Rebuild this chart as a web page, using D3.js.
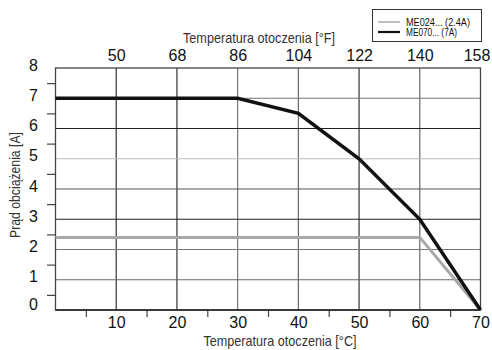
<!DOCTYPE html>
<html>
<head>
<meta charset="utf-8">
<script src="https://cdn.jsdelivr.net/npm/d3@7"></script>
<style>
  body { margin: 0; background: #fff; }
  .num { font-family: "Liberation Sans", Arial, sans-serif; font-size: 16px; fill: #111; }
  .cond { font-family: "Liberation Sans", Arial, sans-serif; fill: #333; }
</style>
</head>
<body>
<div id="chart"></div>
<script>
// values
var tempC = [0, 30, 40, 50, 60, 70];
var me070 = [7, 7, 6.5, 5, 3, 0];
var tempC24 = [0, 60, 70];
var me024 = [2.4, 2.4, 0];

var cTicks = [10, 20, 30, 40, 50, 60, 70];
var cMinor = [5, 15, 25, 35, 45, 55, 65];
var fTicks = [50, 68, 86, 104, 122, 140, 158];
var yTicks = [0, 1, 2, 3, 4, 5, 6, 7, 8];
var yMinor = [0.5, 1.5, 2.5, 3.5, 4.5, 5.5, 6.5, 7.5];
var yGrid = [1, 2, 3, 4, 5, 6, 7];
var xGrid = [10, 20, 30, 40, 50, 60];

var seriesNames = ["ME024... (2.4A)", "ME070... (7A)"];

var svgWidth = 492;
var svgHeight = 350;
var margin = { top: 68, right: 11.5, bottom: 40, left: 55.5 };
var width = svgWidth - margin.left - margin.right;
var height = svgHeight - margin.top - margin.bottom;

// scanned chart: gridlines are not all the same tone
var vGridColor = { 10: "#333", 20: "#333", 30: "#777", 40: "#666", 50: "#333", 60: "#666" };
var hGridColor = { 1: "#666", 2: "#777", 3: "#222", 4: "#555", 5: "#bbb", 6: "#222", 7: "#777" };

var svg = d3.select("#chart")
  .append("svg")
  .attr("width", svgWidth)
  .attr("height", svgHeight);

var chartGroup = svg.append("g")
  .attr("transform", `translate(${margin.left}, ${margin.top})`);

var x = d3.scaleLinear().domain([0, 70]).range([0, width]);
var xF = d3.scaleLinear().domain([32, 158]).range([0, width]);
var y = d3.scaleLinear().domain([0, 8]).range([height, 0]);

//grid
chartGroup.selectAll(".vgrid").data(xGrid).enter()
  .append("line")
  .attr("x1", d => x(d)).attr("x2", d => x(d))
  .attr("y1", 0).attr("y2", height)
  .attr("stroke", d => vGridColor[d])
  .attr("stroke-width", 1.2);

chartGroup.selectAll(".hgrid").data(yGrid).enter()
  .append("line")
  .attr("x1", 0).attr("x2", width)
  .attr("y1", d => y(d)).attr("y2", d => y(d))
  .attr("stroke", d => hGridColor[d])
  .attr("stroke-width", 1.2);

//frame
chartGroup.append("rect")
  .attr("x", 0).attr("y", 0)
  .attr("width", width).attr("height", height)
  .attr("fill", "none")
  .attr("stroke", "#444")
  .attr("stroke-width", 1.3);

//axes
var leftLabels = chartGroup.append("g")
  .call(d3.axisLeft(y).tickValues(yTicks).tickSize(0).tickPadding(17.5).tickFormat(d3.format("d")));
leftLabels.select(".domain").remove();
leftLabels.selectAll("text").attr("class", "num").attr("y", d => d === 0 ? -6 : -3);

var leftMinor = chartGroup.append("g")
  .call(d3.axisLeft(y).tickValues(yMinor).tickSize(8.5).tickFormat(""));
leftMinor.select(".domain").remove();
leftMinor.selectAll("line").attr("stroke", "#444").attr("stroke-width", 1.2);

var bottomLabels = chartGroup.append("g")
  .attr("transform", `translate(0, ${height})`)
  .call(d3.axisBottom(x).tickValues(cTicks).tickSize(0).tickPadding(6.5));
bottomLabels.select(".domain").remove();
bottomLabels.selectAll("text").attr("class", "num");

var bottomMinor = chartGroup.append("g")
  .attr("transform", `translate(0, ${height})`)
  .call(d3.axisBottom(x).tickValues(cMinor).tickSize(7).tickFormat(""));
bottomMinor.select(".domain").remove();
bottomMinor.selectAll("line").attr("stroke", "#444").attr("stroke-width", 1.2);

chartGroup.append("line")
  .attr("x1", 0).attr("x2", width)
  .attr("y1", height).attr("y2", height)
  .attr("stroke", "#222")
  .attr("stroke-width", 1.5);

var topLabels = chartGroup.append("g")
  .call(d3.axisTop(xF).tickValues(fTicks).tickSize(0).tickPadding(7));
topLabels.select(".domain").remove();
topLabels.selectAll("text").attr("class", "num").attr("dx", d => d === 158 ? -4 : 0);

//lines
var line = d3.line()
  .x(d => x(d[0]))
  .y(d => y(d[1]));

chartGroup.append("path")
  .datum(d3.zip(tempC24, me024))
  .attr("d", line)
  .attr("fill", "none")
  .attr("stroke", "#a8a8a8")
  .attr("stroke-width", 3);

chartGroup.append("path")
  .datum(d3.zip(tempC, me070))
  .attr("d", line)
  .attr("fill", "none")
  .attr("stroke", "#111")
  .attr("stroke-width", 3.5);

//axis titles - condensed look via textLength (no narrow font installed)
svg.append("text")
  .attr("class", "cond")
  .attr("x", 183).attr("y", 43)
  .attr("textLength", 152)
  .attr("lengthAdjust", "spacingAndGlyphs")
  .style("font-size", "15px")
  .text("Temperatura otoczenia [°F]");

svg.append("text")
  .attr("class", "cond")
  .attr("x", 203.5).attr("y", 346)
  .attr("textLength", 153)
  .attr("lengthAdjust", "spacingAndGlyphs")
  .style("font-size", "15px")
  .text("Temperatura otoczenia [°C]");

svg.append("text")
  .attr("class", "cond")
  .attr("transform", "translate(20, 238) rotate(-90)")
  .attr("textLength", 106)
  .attr("lengthAdjust", "spacingAndGlyphs")
  .style("font-size", "15px")
  .text("Prąd obciążenia [A]");

//legend
var legend = svg.append("g");
legend.append("rect")
  .attr("x", 372.5).attr("y", 9.5)
  .attr("width", 109).attr("height", 32)
  .attr("fill", "#fff")
  .attr("stroke", "#333")
  .attr("stroke-width", 1);

var legendColors = ["#a8a8a8", "#111"];
var legendWidths = [1.5, 2.2];
var legendTextLen = [64, 51];
var legendItems = legend.selectAll(".item").data(seriesNames).enter()
  .append("g")
  .attr("transform", (d, i) => `translate(378, ${22 + i * 10})`);

legendItems.append("line")
  .attr("x1", 0).attr("x2", 22)
  .attr("stroke", (d, i) => legendColors[i])
  .attr("stroke-width", (d, i) => legendWidths[i]);

legendItems.append("text")
  .attr("class", "cond")
  .attr("x", 28).attr("y", 3.5)
  .attr("textLength", (d, i) => legendTextLen[i])
  .attr("lengthAdjust", "spacingAndGlyphs")
  .style("font-size", "10px")
  .style("fill", "#111")
  .text(d => d);
</script>
</body>
</html>
